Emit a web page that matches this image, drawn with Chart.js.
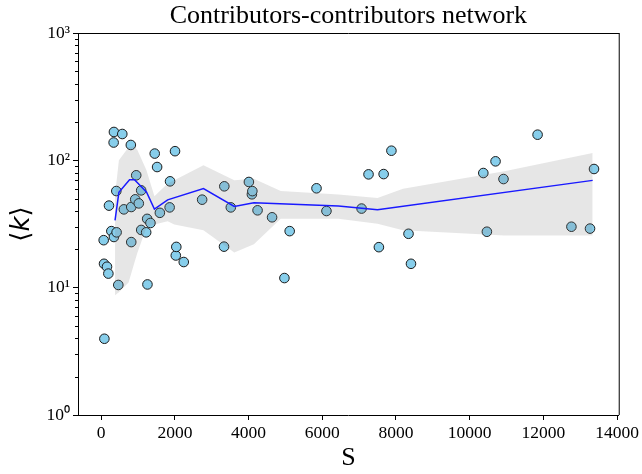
<!DOCTYPE html>
<html><head><meta charset="utf-8">
<script src="https://cdn.jsdelivr.net/npm/chart.js@4.4.1/dist/chart.umd.min.js"></script>
<style>html,body{margin:0;padding:0;background:#fff}</style>
</head><body>
<canvas id="c" width="642" height="474" style="width:642px;height:474px;display:block"></canvas>
<script>
const titleText = 'Contributors-contributors network';
const xLabel = 'S';
const sValues = [67, 76, 86, 157, 194, 211, 275, 337, 345, 345, 410, 418, 464, 572, 615, 804, 815, 815, 923, 950,
  1020, 1085, 1085, 1220, 1247, 1255, 1336, 1452, 1517, 1592, 1857, 1868, 2003, 2024, 2038, 2240, 2739,
  3333, 3341, 3517, 4008, 4089, 4102, 4243, 4637, 4972, 5115, 5843, 6113, 7066, 7255, 7536, 7665, 7876,
  8340, 8407, 10370, 10467, 10702, 10918, 11843, 12761, 13266, 13374];
const kValues = [23.6, 15.4, 3.97, 14.6, 12.9, 44.1, 27.8, 138, 167, 25.0, 57.4, 27.2, 10.5, 161, 41.2, 132, 43.0, 22.8, 49.4, 76.3,
  45.9, 58.1, 28.4, 27.2, 34.7, 10.6, 32.2, 113, 88.6, 38.7, 42.7, 68.4, 118, 17.9, 20.9, 15.9, 49.1,
  21.0, 62.5, 42.7, 67.6, 54.1, 57.3, 40.5, 35.7, 11.9, 27.8, 60.3, 40.0, 41.8, 77.6, 20.8, 78.0, 119,
  26.5, 15.4, 79.5, 27.5, 98.2, 71.3, 159, 30.1, 29.1, 85.5];
const trendS = [375, 480, 769, 904, 1228, 1444, 1803, 2775, 3611, 4143, 6437, 7498, 13338];
const trendK = [33.8, 56.1, 70.5, 70.5, 56.4, 41.4, 48.9, 60.0, 43.5, 46.4, 43.7, 41.0, 69.6];
const bandS = [375, 480, 742, 904, 985, 1228, 1444, 1803, 1984, 2775, 3611, 4143, 4872, 6437, 7498, 8191, 10944, 13338];
const bandUpper = [53.1, 100, 126.5, 128.8, 119.9, 83.4, 52.2, 65.9, 69.6, 91.3, 69.6, 71.6, 57.4, 53.8, 50.6, 59.9, 82.0, 114.1];
const bandLower = [8.7, 9.19, 11.0, 15.8, 18.9, 29.8, 31.4, 33.2, 31.4, 28.2, 18.9, 21.9, 34.7, 34.8, 31.8, 28.2, 25.7, 25.7];
const xTicks = [0, 2000, 4000, 6000, 8000, 10000, 12000, 14000];
const xTickLabels = ['0', '2000', '4000', '6000', '8000', '10000', '12000', '14000'];
const yTicks = [1, 10, 100, 1000];
const yTickLabels = ['10⁰', '10¹', '10²', '10³'];
const yMinorTicks = [2,3,4,5,6,7,8,9,20,30,40,50,60,70,80,90,200,300,400,500,600,700,800,900];

const zip = (xs, ys) => xs.map((x, i) => ({x: x, y: ys[i]}));

const deco = {
  id: 'deco',
  afterDraw(chart) {
    const ctx = chart.ctx, a = chart.chartArea, y = chart.scales.y;
    ctx.save();
    ctx.strokeStyle = '#000';
    ctx.lineWidth = 1;
    ctx.beginPath();
    ctx.moveTo(a.left, a.top + 0.5); ctx.lineTo(a.right + 0.5, a.top + 0.5);
    ctx.moveTo(a.right + 0.5, a.top); ctx.lineTo(a.right + 0.5, a.bottom);
    yMinorTicks.forEach(v => {
      const p = Math.round(y.getPixelForValue(v)) + 0.5;
      ctx.moveTo(a.left - 3, p); ctx.lineTo(a.left, p);
    });
    ctx.stroke();
    ctx.fillStyle = '#000';
    ctx.font = '26px "Liberation Serif"';
    ctx.textAlign = 'center';
    ctx.textBaseline = 'middle';
    ctx.fillText(titleText, (a.left + a.right) / 2, 16);
    // y label  <k>
    ctx.translate(22, (a.top + a.bottom) / 2);
    ctx.rotate(-Math.PI / 2);
    const fN = '26px "DejaVu Sans"', fI = 'italic 26px "DejaVu Sans"';
    const parts = [['⟨', fN], ['k', fI], ['⟩', fN]];
    let total = 0;
    parts.forEach(p => { ctx.font = p[1]; p.push(ctx.measureText(p[0]).width); total += p[2]; });
    let xx = -total / 2;
    ctx.textAlign = 'left';
    parts.forEach(p => { ctx.font = p[1]; ctx.fillText(p[0], xx, 0); xx += p[2]; });
    ctx.restore();
  }
};

new Chart(document.getElementById('c'), {
  type: 'scatter',
  data: {
    datasets: [
      {type: 'line', data: zip(trendS, trendK), borderColor: '#1a1aff', borderWidth: 1.5, pointRadius: 0,
       showLine: true, fill: false, order: 0, tension: 0},
      {type: 'line', data: zip(bandS, bandUpper), borderColor: 'rgba(0,0,0,0)', borderWidth: 0, pointRadius: 0,
       showLine: true, fill: false, order: 1},
      {type: 'line', data: zip(bandS, bandLower), borderColor: 'rgba(0,0,0,0)', borderWidth: 0, pointRadius: 0,
       showLine: true, fill: '-1', backgroundColor: 'rgba(128,128,128,0.2)', order: 1},
      {data: zip(sValues, kValues), backgroundColor: '#87CEEB', borderColor: '#1a1a1a', borderWidth: 1,
       pointRadius: 4.8, order: 3}
    ]
  },
  options: {
    responsive: false,
    animation: false,
    devicePixelRatio: 1,
    layout: {padding: {top: 33, right: 20, left: 0, bottom: 0}},
    plugins: {legend: {display: false}, tooltip: {enabled: false}},
    scales: {
      x: {
        type: 'linear', min: -630, max: 14045,
        afterBuildTicks: s => { s.ticks = xTicks.map(v => ({value: v})); },
        afterFit: s => { s.height = 59; },
        grid: {display: true, drawOnChartArea: false, drawTicks: true, tickLength: 5, color: '#000', tickColor: '#000'},
        border: {display: true, color: '#000', width: 1},
        ticks: {font: {family: 'Liberation Serif', size: 17.5}, color: '#000', padding: 3, maxRotation: 0, autoSkip: false,
          callback: v => { const i = xTicks.indexOf(v); return i >= 0 ? xTickLabels[i] : ''; }},
        title: {display: true, text: xLabel, font: {family: 'Liberation Serif', size: 26}, color: '#000', padding: {top: 0, bottom: 0}}
      },
      y: {
        type: 'logarithmic', min: 1, max: 1000,
        afterBuildTicks: s => { s.ticks = yTicks.map(v => ({value: v})); },
        afterFit: s => { s.width = 78; },
        grid: {display: true, drawOnChartArea: false, drawTicks: true, tickLength: 5, color: '#000', tickColor: '#000'},
        border: {display: true, color: '#000', width: 1},
        ticks: {font: {family: 'Liberation Serif', size: 17.5}, color: '#000', padding: 3, autoSkip: false,
          callback: v => { const i = yTicks.indexOf(v); return i >= 0 ? yTickLabels[i] : ''; }}
      }
    }
  },
  plugins: [deco]
});
</script>
</body></html>
